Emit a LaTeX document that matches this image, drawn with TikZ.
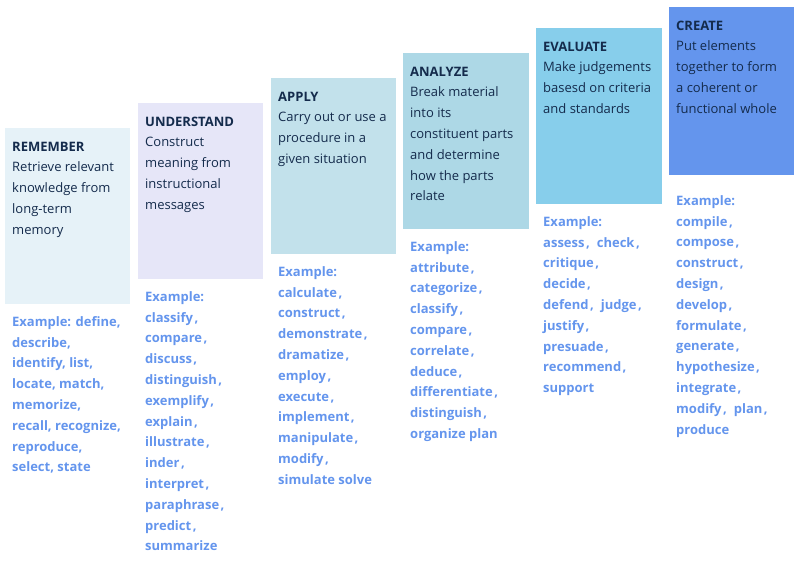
\documentclass[tikz,border=0pt]{standalone}
\usepackage{fontspec}
\setmainfont{Open Sans}
\definecolor{cRem}{HTML}{E6F2F8}
\definecolor{cUnd}{HTML}{E6E6F8}
\definecolor{cApp}{HTML}{C2E1EB}
\definecolor{cAna}{HTML}{ADD8E6}
\definecolor{cEva}{HTML}{87CEEB}
\definecolor{cCre}{HTML}{6495ED}
\definecolor{txt}{HTML}{142B4C}
\definecolor{exm}{HTML}{6495ED}
\newcommand{\zc}{\kern1.5pt,\hspace{7pt}}
\newcommand{\topstrut}{\rule{0pt}{10pt}}
\tikzset{
  desc/.style={anchor=north west, inner sep=0pt, align=left, text=txt,
    font=\fontsize{13}{20.8}\selectfont},
  exmp/.style={anchor=north west, inner sep=0pt, align=left, text=exm,
    font=\fontsize{13}{20.8}\selectfont\bfseries},
}
\begin{document}
\begin{tikzpicture}[x=1pt,y=-1pt]
\useasboundingbox (0,0) rectangle (800,561);
% boxes
\fill[cRem] (5,128) rectangle (130,304);
\fill[cUnd] (138,103) rectangle (263,279);
\fill[cApp] (271,78) rectangle (396,254);
\fill[cAna] (403,53) rectangle (529,229);
\fill[cEva] (536,28) rectangle (662,204);
\fill[cCre] (669,7) rectangle (794,175);
% descriptions (first baseline = y + 10)
\node[desc] (remT) at (12,141) {\topstrut\textbf{REMEMBER}\\Retrieve relevant\\knowledge from\\long-term\\memory};
\node[desc] (undT) at (145,116) {\topstrut\textbf{UNDERSTAND}\\Construct\\meaning from\\instructional\\messages};
\node[desc] (appT) at (278,91) {\topstrut\textbf{APPLY}\\Carry out or use a\\procedure in a\\given situation};
\node[desc] (anaT) at (410,66) {\topstrut\textbf{ANALYZE}\\Break material\\into its\\constituent parts\\and determine\\how the parts\\relate};
\node[desc] (evaT) at (543,41) {\topstrut\textbf{EVALUATE}\\Make judgements\\basesd on criteria\\and standards};
\node[desc] (creT) at (676,20) {\topstrut\textbf{CREATE}\\Put elements\\together to form\\a coherent or\\functional whole};
% examples
\node[exmp] (remE) at (12,316) {\topstrut Example: define,\\describe,\\identify, list,\\locate, match,\\memorize,\\recall, recognize,\\reproduce,\\select, state};
\node[exmp] (undE) at (145,291) {\topstrut Example:\\classify\zc\\compare\zc\\discuss\zc\\distinguish\zc\\exemplify\zc\\explain\zc\\illustrate\zc\\inder\zc\\interpret\zc\\paraphrase\zc\\predict\zc\\summarize};
\node[exmp] (appE) at (278,266) {\topstrut Example:\\calculate\zc\\construct\zc\\demonstrate\zc\\dramatize\zc\\employ\zc\\execute\zc\\implement\zc\\manipulate\zc\\modify\zc\\simulate solve};
\node[exmp] (anaE) at (410,241) {\topstrut Example:\\attribute\zc\\categorize\zc\\classify\zc\\compare\zc\\correlate\zc\\deduce\zc\\differentiate\zc\\distinguish\zc\\organize plan};
\node[exmp] (evaE) at (543,216) {\topstrut Example:\\assess\zc check\zc\\critique\zc\\decide\zc\\defend\zc judge\zc\\justify\zc\\presuade\zc\\recommend\zc\\support};
\node[exmp] (creE) at (676,195) {\topstrut Example:\\compile\zc\\compose\zc\\construct\zc\\design\zc\\develop\zc\\formulate\zc\\generate\zc\\hypothesize\zc\\integrate\zc\\modify\zc plan\zc\\produce};
\end{tikzpicture}
\end{document}
